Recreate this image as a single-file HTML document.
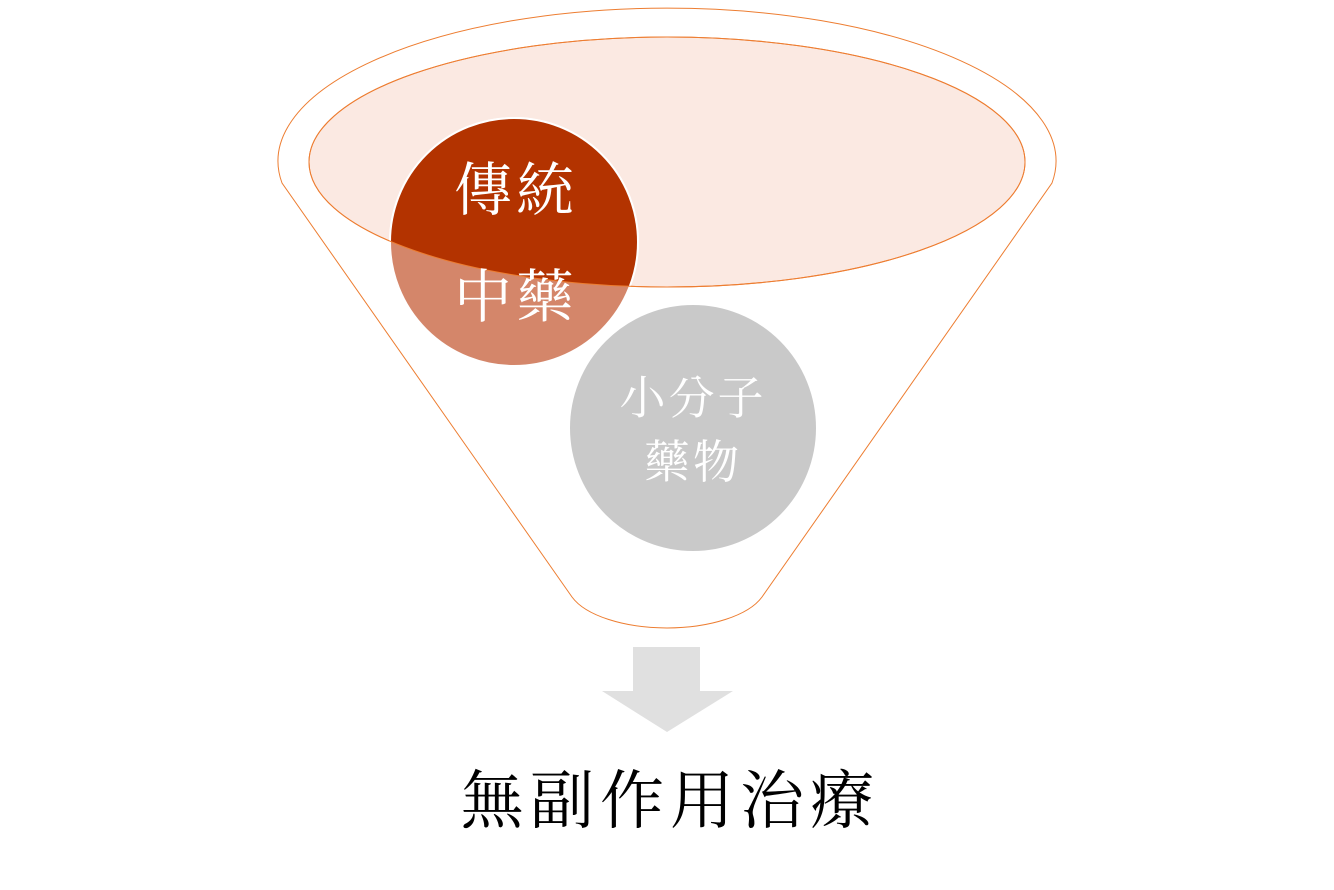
<!DOCTYPE html>
<html><head><meta charset="utf-8"><style>
html,body{margin:0;padding:0;background:#fff;width:1334px;height:890px;overflow:hidden}
text{font-family:"Liberation Serif","Noto Serif CJK TC","Noto Serif CJK SC",serif}
</style></head><body>
<svg width="1334" height="890" viewBox="0 0 1334 890" xmlns="http://www.w3.org/2000/svg">
<defs>
<clipPath id="ell"><ellipse cx="667" cy="162" rx="358" ry="125"/></clipPath>
</defs>
<path d="M282,183 A389,153 0 1 1 1052,183 L762,597 A100,45 0 0 1 572,597 Z" fill="#fff" stroke="#ed7d31" stroke-width="1"/>
<ellipse cx="667" cy="162" rx="358" ry="125" fill="#fbe9e2" stroke="#ed7d31" stroke-width="1"/>
<circle cx="514" cy="242" r="124" fill="#d4866a" stroke="#fff" stroke-width="2"/>
<circle cx="514" cy="242" r="124" fill="#b33300" stroke="#fff" stroke-width="2" clip-path="url(#ell)"/>
<ellipse cx="667" cy="162" rx="358" ry="125" fill="none" stroke="#ed7d31" stroke-width="1"/>
<circle cx="693" cy="428" r="124" fill="#c9c9c9" stroke="#fff" stroke-width="2"/>
<text x="516" y="210" font-size="58" fill="#fff" text-anchor="middle" letter-spacing="4">傳統</text>
<text x="516" y="317" font-size="58" fill="#fff" text-anchor="middle" letter-spacing="4">中藥</text>
<text x="693" y="414" font-size="46" fill="#fff" text-anchor="middle" letter-spacing="3">小分子</text>
<text x="693" y="478" font-size="46" fill="#fff" text-anchor="middle" letter-spacing="3">藥物</text>
<polygon points="633,647 700,647 700,691 733,691 667,732 602,691 633,691" fill="#e0e0e0"/>
<text x="670" y="823" font-size="64" fill="#000" text-anchor="middle" letter-spacing="6">無副作用治療</text>
</svg>
</body></html>
